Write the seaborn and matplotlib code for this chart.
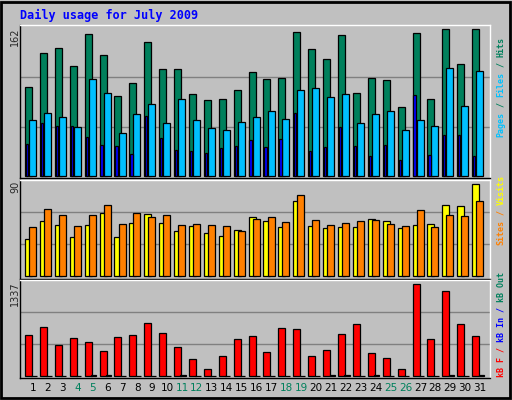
import numpy as np
import matplotlib
matplotlib.use("Agg")
import matplotlib.pyplot as plt
import seaborn as sns

days = np.arange(1, 32)
hits = [97, 135, 140, 120, 155, 132, 88, 102, 147, 117, 117, 90, 83, 84, 94, 114,
        106, 107, 158, 139, 128, 154, 91, 107, 105, 76, 157, 84, 161, 123, 161]
files = [61, 69, 65, 54, 106, 91, 47, 68, 79, 58, 84, 61, 53, 50, 59, 65,
         71, 62, 94, 96, 86, 90, 58, 68, 71, 50, 61, 55, 118, 77, 115]
pages = [35, 58, 55, 55, 43, 34, 33, 24, 66, 42, 29, 27, 25, 31, 33, 39,
         32, 41, 69, 27, 32, 54, 33, 22, 34, 17, 89, 23, 45, 45, 22]
visits = [35, 52, 48, 37, 48, 59, 37, 50, 58, 50, 42, 47, 40, 38, 43, 55,
          52, 46, 70, 47, 45, 46, 46, 54, 52, 45, 48, 49, 67, 66, 86]
sites = [46, 63, 57, 47, 57, 67, 49, 59, 55, 57, 48, 49, 48, 47, 42, 54,
         55, 51, 76, 53, 48, 50, 52, 53, 49, 47, 62, 46, 57, 56, 70]
kb_f = [566, 678, 425, 524, 468, 341, 538, 566, 734, 594, 397, 229, 89, 271, 510, 552,
        327, 664, 650, 271, 355, 580, 720, 313, 243, 89, 1281, 510, 1183, 720, 552]
kb_in = [0, 0, 0, 0, 12, 12, 0, 0, 0, 0, 12, 0, 0, 0, 0, 0,
         0, 0, 0, 0, 12, 12, 0, 12, 0, 0, 0, 0, 12, 0, 12]
weekend = [4, 5, 11, 12, 18, 19, 25, 26]

sns.set_style("white")
plt.rcParams['font.family'] = ['DejaVu Sans Mono']

W, H = 512, 400
fig = plt.figure(figsize=(W / 100, H / 100), dpi=100)
fig.patch.set_facecolor("#c0c0c0")
fig.patches.append(plt.Rectangle((0.002, 0.004), 0.994, 0.992, transform=fig.transFigure,
                                 fill=False, edgecolor="black", lw=2))

def make_ax(top, bottom):
    ax = fig.add_axes([20 / W, 1 - bottom / H, 470 / W, (bottom - top) / H])
    ax.set_facecolor("#c0c0c0")
    for s in ax.spines.values():
        s.set_color("black")
        s.set_linewidth(1)
    ax.spines['right'].set_color("white")
    ax.spines['top'].set_color("white")
    ax.set_xlim(0.13, 31.67)
    ax.set_xticks([])
    ax.set_yticks([])
    return ax

bw = 0.47
kw = dict(edgecolor="black", linewidth=0.9, align="edge", zorder=3)

ax1 = make_ax(25, 178)
ax1.set_ylim(-162 * 2 / 148, 162 * 151 / 148)
for g in (54, 108):
    ax1.axhline(g, color="#808080", lw=1, zorder=1)
ax1.bar(days - 0.53, hits, bw, color="#00805c", **kw)
ax1.bar(days - 0.26, files, bw, color="#00c0ff", **kw)
ax1.bar(days - 0.47, pages, 0.15, color="#0000ff", **kw)

ax2 = make_ax(180, 279)
ax2.set_ylim(-90 * 2.7 / 96, 90)
for g in (30, 60):
    ax2.axhline(g, color="#808080", lw=1, zorder=1)
ax2.bar(days - 0.53, visits, bw, color="#ffff00", **kw)
ax2.bar(days - 0.26, sites, bw, color="#ff8000", **kw)

ax3 = make_ax(280, 378)
ax3.set_ylim(-1337 * 2.3 / 95.4, 1337)
for g in (446, 891):
    ax3.axhline(g, color="#808080", lw=1, zorder=1)
ax3.bar(days - 0.53, kb_f, bw, color="#ff0000", **kw)
ax3.bar(days - 0.1, kb_in, 0.35, color="#0000ff", **kw)

for d in days:
    c = "#00805c" if d in weekend else "black"
    ax3.text(d, -0.1, str(d), transform=ax3.get_xaxis_transform(), ha="center", va="center",
             fontsize=7.5, color=c, family="DejaVu Sans")

fig.text(20 / W, 1 - 15 / H, "Daily usage for July 2009", color="#0000ff",
         fontsize=8.5, fontweight="bold", va="center")

for ytop, label in [(27, "162"), (181, "90"), (281, "1337")]:
    fig.text(15 / W, 1 - ytop / H, label, rotation=90, ha="center", va="top",
             fontsize=7, family="DejaVu Sans")

# right-hand legends, bottom-to-top, coloured pieces
cw = 5.0  # pixels per character
def vlabel(ybottom, pieces):
    y = ybottom
    for txt, col in pieces:
        fig.text(501 / W, 1 - y / H, txt, rotation=90, ha="center", va="bottom",
                 fontsize=6, fontweight="bold", color=col)
        y -= cw * len(txt)

vlabel(137, [("Pages", "#00c0ff"), (" / ", "#00805c"), ("Files", "#00c0ff"),
             (" / ", "#00805c"), ("Hits", "#00805c")])
vlabel(245, [("Sites", "#ff8000"), (" / ", "#ff8000"), ("Visits", "#ffff00")])
vlabel(377, [("kB F", "#ff0000"), (" / ", "#ff0000"), ("kB In", "#0000ff"),
             (" / ", "#0000ff"), ("kB Out", "#00805c")])

fig.savefig("out.png", dpi=100, facecolor=fig.get_facecolor())
